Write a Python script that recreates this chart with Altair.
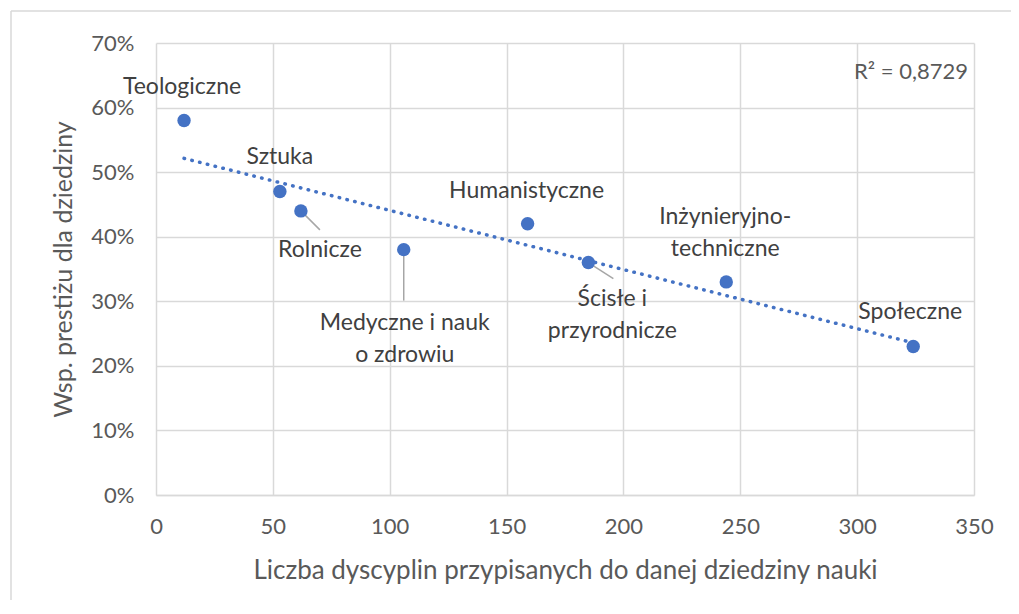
import altair as alt
import pandas as pd

names = ["Teologiczne", "Sztuka", "Rolnicze", "Medyczne i nauk\no zdrowiu",
         "Humanistyczne", "Ścisłe i\nprzyrodnicze", "Inżynieryjno-\ntechniczne", "Społeczne"]
disciplines = [12, 53, 62, 106, 159, 185, 244, 324]
prestige = [0.58, 0.47, 0.44, 0.38, 0.42, 0.36, 0.33, 0.23]
x_ticks = [0, 50, 100, 150, 200, 250, 300, 350]
y_ticks = [0, 0.1, 0.2, 0.3, 0.4, 0.5, 0.6, 0.7]
r2_text = "R² = 0,8729"

df = pd.DataFrame({"name": names, "x": disciplines, "y": prestige})

FONT = "Lato"
BLUE = "#4472C4"
GRID = "#d9d9d9"
TXT = "#595959"
W, H = 818, 452

xs = alt.Scale(domain=[0, 350], nice=False, zero=True)
ys = alt.Scale(domain=[0, 0.7], nice=False)

X = alt.X("x:Q", scale=xs, title="Liczba dyscyplin przypisanych do danej dziedziny nauki",
          axis=alt.Axis(values=x_ticks, grid=True, gridColor=GRID, gridWidth=1.5,
                        domainColor=GRID, domainWidth=1.5, ticks=False, labelFlush=False,
                        labelFont=FONT, labelFontSize=22, labelColor=TXT, labelPadding=21,
                        titleFont=FONT, titleFontSize=26, titleFontWeight="normal",
                        titleColor=TXT, titlePadding=20))
Y = alt.Y("y:Q", scale=ys, title="Wsp. prestiżu dla dziedziny",
          axis=alt.Axis(values=y_ticks, format=".0%", grid=True, gridColor=GRID, gridWidth=1.5,
                        domain=False, ticks=False, labelFlush=False,
                        labelFont=FONT, labelFontSize=22, labelColor=TXT, labelPadding=22,
                        titleFont=FONT, titleFontSize=25, titleFontWeight="normal",
                        titleColor=TXT, titlePadding=14))

base = alt.Chart(df)

trend = base.transform_regression("x", "y").mark_line(
    color=BLUE, strokeWidth=3.5, strokeDash=[0.5, 7.5], strokeCap="round"
).encode(x=alt.X("x:Q", scale=xs), y=alt.Y("y:Q", scale=ys))

# label offsets (dx, dy of first line) and leader line end offsets
label_style = {
    "Teologiczne": (-2, -33, None),
    "Sztuka": (0, -35, None),
    "Rolnicze": (19, 39, (19, 19)),
    "Medyczne i nauk\no zdrowiu": (1, 73, (0, 51)),
    "Humanistyczne": (-1, -33, None),
    "Ścisłe i\nprzyrodnicze": (24, 36, (25, 16)),
    "Inżynieryjno-\ntechniczne": (-1, -65, None),
    "Społeczne": (-3, -34, None),
}

layers = [trend]
for n, (dx, dy, lead) in label_style.items():
    if lead is not None:
        layers.append(
            base.transform_filter(alt.datum.name == n).mark_rule(
                color="#a6a6a6", strokeWidth=1.5, x2Offset=lead[0], y2Offset=lead[1]
            ).encode(x=alt.X("x:Q", scale=xs), y=alt.Y("y:Q", scale=ys), x2="x:Q", y2="y:Q")
        )

points = base.mark_circle(size=180, color=BLUE, opacity=1).encode(x=X, y=Y)
layers.append(points)

for n, (dx, dy, lead) in label_style.items():
    layers.append(
        base.transform_filter(alt.datum.name == n).mark_text(
            dx=dx, dy=dy, font=FONT, fontSize=23, color="#404040",
            align="center", baseline="middle", lineBreak="\n", lineHeight=32
        ).encode(x=alt.X("x:Q", scale=xs), y=alt.Y("y:Q", scale=ys), text="name:N")
    )

r2 = alt.Chart(pd.DataFrame({"t": [r2_text]})).mark_text(
    font=FONT, fontSize=22, color=TXT, align="right", baseline="middle"
).encode(x=alt.value(W - 6), y=alt.value(29), text="t:N")
layers.append(r2)

border_top = alt.Chart(pd.DataFrame({"a": [0]})).mark_rule(color=GRID, strokeWidth=1.5).encode(
    x=alt.value(-145), x2=alt.value(W + 40), y=alt.value(-32))
border_left = alt.Chart(pd.DataFrame({"a": [0]})).mark_rule(color=GRID, strokeWidth=1.5).encode(
    x=alt.value(-145), y=alt.value(-32), y2=alt.value(H + 120))
layers += [border_top, border_left]

chart = alt.layer(*layers).properties(
    width=W, height=H,
    autosize=alt.AutoSizeParams(type="none"),
    padding={"left": 148, "top": 35, "right": 37, "bottom": 105},
    background="white",
).configure_view(stroke=None)

chart.save("out.html", embed_options={"renderer": "svg", "actions": False})
